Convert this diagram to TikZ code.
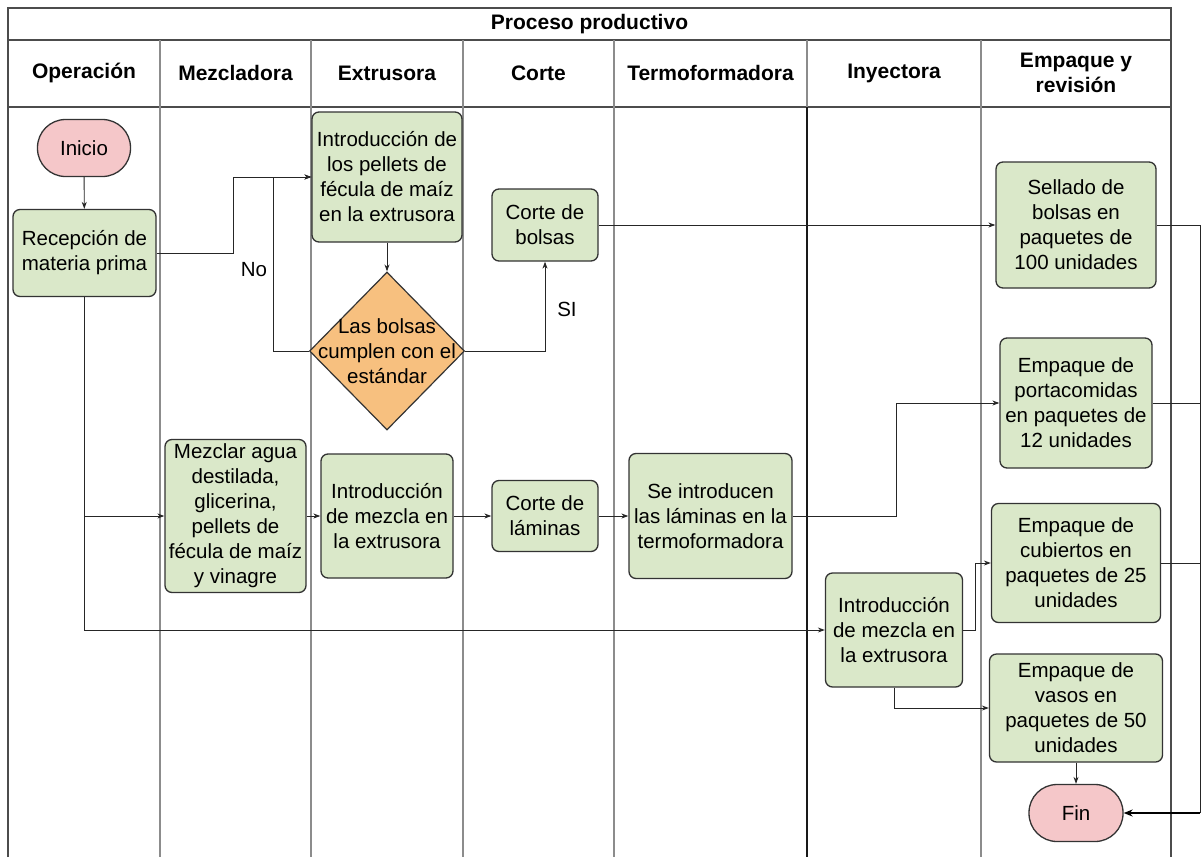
\documentclass[tikz,border=0pt]{standalone}
\usepackage{fontspec}
\setmainfont{Liberation Sans}
\usetikzlibrary{shapes.geometric,arrows.meta}
\definecolor{boxgreen}{HTML}{DAE8C9}
\definecolor{termpink}{HTML}{F5C7C9}
\definecolor{decorange}{HTML}{F7C07F}
\definecolor{lanegray}{HTML}{8C8C8C}
\definecolor{edgegray}{HTML}{333333}
\newcommand\boxfont{\fontsize{20.5}{25}\selectfont}
\newcommand\hdrfont{\fontsize{21}{25}\selectfont\bfseries}
\begin{document}
\begin{tikzpicture}[x=1pt,y=-1pt,
  proc/.style={draw=edgegray, line width=1.3pt, fill=boxgreen, rounded corners=7pt, align=center, inner sep=1pt, font=\boxfont},
  term/.style={draw=edgegray, line width=1.3pt, fill=termpink, rounded corners=28pt, minimum width=93pt, minimum height=57pt, inner sep=1pt, font=\boxfont},
  decbox/.style={diamond, draw=edgegray, line width=1.2pt, fill=decorange, minimum width=155pt, minimum height=158pt, inner sep=0pt},
  conn/.style={draw=black!85, line width=0.9pt, -{Stealth[length=7pt,width=5pt]}},
  plainline/.style={draw=black!85, line width=0.9pt},
  bigconn/.style={draw=black, line width=1.6pt, -{Stealth[length=9pt,width=7pt]}},
  tabline/.style={draw=black!70, line width=1.2pt},
  lanel/.style={draw=lanegray, line width=1.1pt},
  laned/.style={draw=black!90, line width=1.3pt},
  hdr/.style={font=\hdrfont, align=center},
  lbl/.style={font=\boxfont}
]
\useasboundingbox (0,0) rectangle (1202,857);
\fill[white] (0,0) rectangle (1202,857);
% table
\draw[tabline] (8,857) -- (8,8) -- (1171,8) -- (1171,857);
\draw[tabline] (8,40) -- (1171,40);
\draw[tabline] (8,107) -- (1171,107);
\foreach \xx in {160,311,463,614,981} {\draw[lanel] (\xx,40) -- (\xx,857);}
\draw[lanel] (807,40) -- (807,107);
\draw[laned] (807,107) -- (807,857);
% headers
\node[hdr] (title) at (589.5,24) {Proceso productivo};
\node[hdr] (h1) at (84,73) {Operación};
\node[hdr] (h2) at (235.5,73) {Mezcladora};
\node[hdr] (h3) at (387,73) {Extrusora};
\node[hdr] (h4) at (538.5,73) {Corte};
\node[hdr] (h5) at (710.5,73) {Termoformadora};
\node[hdr] (h6) at (894,73) {Inyectora};
\node[hdr] (h7) at (1076,73) {Empaque y\\revisión};
% nodes
\node[term] (ini) at (84,148) {Inicio};
\node[proc, minimum width=143pt, minimum height=87pt] (rec) at (84.5,253) {Recepción de\\materia prima};
\node[proc, minimum width=150pt, minimum height=130pt] (intro) at (387,177) {Introducción de\\los pellets de\\fécula de maíz\\en la extrusora};
\node[proc, minimum width=106pt, minimum height=72pt] (cb) at (545,225) {Corte de\\bolsas};
\node[decbox] (dec) at (387,351) {};
\node[font=\boxfont, align=center, inner sep=0pt] (dectext) at (387,351) {Las bolsas\\cumplen con el\\estándar};
\node[proc, minimum width=160pt, minimum height=126pt] (sel) at (1076,225) {Sellado de\\bolsas en\\paquetes de\\100 unidades};
\node[proc, minimum width=152pt, minimum height=130pt] (port) at (1076,403) {Empaque de\\portacomidas\\en paquetes de\\12 unidades};
\node[proc, minimum width=169pt, minimum height=119pt] (cub) at (1076,563) {Empaque de\\cubiertos en\\paquetes de 25\\unidades};
\node[proc, minimum width=141pt, minimum height=153pt] (mez) at (235.5,516) {Mezclar agua\\destilada,\\glicerina,\\pellets de\\fécula de maíz\\y vinagre};
\node[proc, minimum width=132pt, minimum height=124pt] (imx) at (387,516) {Introducción\\de mezcla en\\la extrusora};
\node[proc, minimum width=106pt, minimum height=71pt] (cl) at (545,516) {Corte de\\láminas};
\node[proc, minimum width=163pt, minimum height=125pt] (ter) at (710.5,516) {Se introducen\\las láminas en la\\termoformadora};
\node[proc, minimum width=137pt, minimum height=114pt] (iny) at (894,630) {Introducción\\de mezcla en\\la extrusora};
\node[proc, minimum width=173pt, minimum height=108pt] (vas) at (1076,708) {Empaque de\\vasos en\\paquetes de 50\\unidades};
\node[term, minimum width=94pt] (fin) at (1076,813) {Fin};
\coordinate (rr) at (1200,813);
% labels
\node[lbl] (lno) at (254,270) {No};
\node[lbl] (lsi) at (567,309) {SI};
% connectors
\draw[conn] (ini) -- (rec);
\draw[conn] (rec.east) -- ++(77,0) |- (intro.west);
\draw[conn] (intro) -- (dec);
\draw[conn] (dec.west) -- ++(-35,0) |- (intro.west);
\draw[conn] (dec.east) -| (cb.south);
\draw[conn] (cb.east) -- (sel.west);
\draw[conn] (rec.south) |- (mez.west);
\draw[conn] (rec.south) |- (iny.west);
\draw[conn] (mez.east) -- (imx.west);
\draw[conn] (imx.east) -- (cl.west);
\draw[conn] (cl.east) -- (ter.west);
\draw[conn] (ter.east) -- ++(104,0) |- (port.west);
\draw[conn] (iny.east) -- ++(12,0) |- (cub.west);
\draw[conn] (iny.south) |- (vas.west);
\draw[conn] (vas) -- (fin);
\draw[plainline] (sel.east) -| (rr);
\draw[plainline] (port.east) -| (rr);
\draw[plainline] (cub.east) -| (rr);
\draw[bigconn] (rr) -- (fin.east);
\end{tikzpicture}
\end{document}
